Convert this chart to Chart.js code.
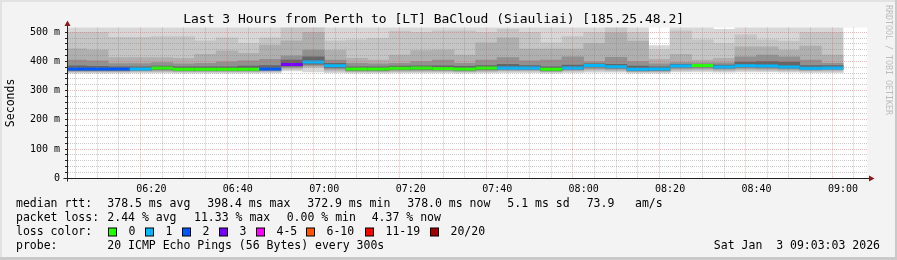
<!DOCTYPE html>
<html>
<head>
<meta charset="utf-8">
<script src="https://cdn.jsdelivr.net/npm/chart.js@4.4.1/dist/chart.umd.min.js"></script>
<style>
  html, body { margin: 0; padding: 0; background: #f3f3f3; }
  canvas { display: block; }
</style>
</head>
<body>
<canvas id="smoke" width="897" height="260"></canvas>
<script>
// each row is one 5 minute consolidation step, labelled by the time it ends
const slotEnds = ['06:05', '06:10', '06:15', '06:20', '06:25', '06:30', '06:35', '06:40', '06:45',
  '06:50', '06:55', '07:00', '07:05', '07:10', '07:15', '07:20', '07:25', '07:30', '07:35', '07:40',
  '07:45', '07:50', '07:55', '08:00', '08:05', '08:10', '08:15', '08:20', '08:25', '08:30', '08:35',
  '08:40', '08:45', '08:50', '08:55', '09:00'];

// median rtt (ms) and lost pings out of 20
const medianMs = [374, 374, 374, 374, 377.6, 373, 373, 373, 373, 374, 389.6, 398.4, 385, 374, 374, 377,
  377.6, 376, 374, 377.6, 377.6, 377.6, 372.9, 377.6, 386, 382, 373.5, 374, 384.5, 386, 381, 385.5,
  384.5, 381, 376.6, 378];
const lostPings = [2, 2, 2, 1, 0, 0, 0, 0, 0, 2, 3, 1, 1, 0, 0, 0, 0, 0, 0, 0, 1, 1, 0, 1, 1, 1, 1, 1, 1,
  0, 1, 1, 1, 1, 1, 1];

// smoke: outer -> inner bands of the sorted pings (ms)
const pingMin = [360, 360, 360, 361, 361, 360, 360, 360, 360, 361, 368, 364, 362, 360, 360, 361, 361, 361,
  360, 361, 362, 362, 360, 362, 363, 363, 360, 360, 364, 364, 363, 364, 364, 363, 362, 362];
const pingMax = [530, 530, 530, 530, 530, 530, 530, 530, 530, 530, 530, 530, 530, 530, 530, 530, 530, 530,
  530, 530, 530, 530, 530, 530, 530, 530, 530, 454, 530, 530, 510, 530, 530, 530, 530, 530];
const band2Lo = [363, 363, 363, 364, 364, 363, 363, 363, 363, 364, 372, 378, 366, 363, 363, 364, 364, 364,
  363, 364, 366, 366, 363, 366, 368, 367, 363, 363, 368, 369, 367, 369, 368, 367, 366, 366];
const band2Hi = [500, 500, 483, 483, 485, 485, 471, 481, 462, 481, 516, 530, 471, 474, 479, 504, 500, 505,
  505, 500, 510, 500, 464, 485, 500, 516, 500, 440, 505, 474, 462, 491, 474, 470, 500, 500];
const band3Lo = [366, 366, 366, 367, 367, 366, 366, 366, 366, 367, 376, 382, 370, 366, 366, 367, 367, 367,
  366, 367, 369, 369, 366, 369, 372, 370, 366, 366, 372, 373, 370, 373, 372, 370, 369, 369];
const band3Hi = [443, 439, 413, 413, 413, 411, 424, 436, 428, 456, 471, 500, 438, 411, 405, 422, 437, 439,
  422, 464, 481, 442, 442, 442, 462, 499, 470, 407, 424, 405, 411, 450, 450, 439, 453, 422];
const band4Lo = [368, 368, 368, 369, 370, 368, 368, 368, 368, 369, 380, 386, 374, 368, 368, 370, 370, 369,
  368, 370, 371, 371, 367, 371, 376, 374, 367, 368, 376, 377, 374, 377, 376, 374, 371, 372];
const band4Hi = [405, 402, 393, 393, 396, 392, 394, 399, 402, 407, 419, 439, 405, 394, 392, 394, 400, 405,
  394, 405, 413, 402, 405, 416, 399, 414, 400, 392, 396, 395, 395, 416, 422, 416, 405, 394];
const band5Lo = [370, 370, 370, 371, 373, 370, 370, 370, 370, 371, 384, 391, 379, 370, 370, 373, 373, 372,
  370, 373, 374, 374, 369, 374, 381, 378, 369, 370, 380, 381, 378, 381, 380, 378, 374, 375];
const band5Hi = [385, 383, 382, 382, 384, 382, 382, 382, 384, 386, 405, 416, 394, 382, 382, 384, 385, 385,
  383, 386, 390, 386, 382, 388, 392, 390, 384, 382, 390, 390, 388, 398, 400, 398, 386, 386];

// axis ticks
const yTicks = [0, 20, 40, 60, 80, 100, 120, 140, 160, 180, 200, 220, 240, 260, 280, 300, 320, 340, 360,
  380, 400, 420, 440, 460, 480, 500];
const xLabels = ['06:20', '06:40', '07:00', '07:20', '07:40', '08:00', '08:20', '08:40', '09:00'];
const viewStart = '06:03:03';
const viewEnd = '09:03:03';

// legend / stats texts
const rttStats = ['378.5 ms avg', '398.4 ms max', '372.9 ms min', '378.0 ms now', '5.1 ms sd', '73.9', 'am/s'];
const lossStats = ['2.44 % avg', '11.33 % max', '0.00 % min', '4.37 % now'];
const lossLegend = [
  { label: '0', color: '#26ff00' },
  { label: '1', color: '#00b8ff' },
  { label: '2', color: '#0059ff' },
  { label: '3', color: '#7800ff' },
  { label: '4-5', color: '#ff00ff' },
  { label: '6-10', color: '#ff5500' },
  { label: '11-19', color: '#ff0000' },
  { label: '20/20', color: '#a10000' }
];
const probeText = '20 ICMP Echo Pings (56 Bytes) every 300s';
const stampText = 'Sat Jan  3 09:03:03 2026';

const MONO = "'DejaVu Sans Mono', monospace";

const toMin = function (s) {
  const p = s.split(':').map(Number);
  return (p[0] - 6) * 60 + p[1] + (p[2] || 0) / 60;
};
const isHour = v => xLabels.some(l => Math.abs(toMin(l) - v) < 0.01);
const lossColor = function (n) {
  if (n <= 3) return lossLegend[n].color;
  if (n <= 5) return lossLegend[4].color;
  if (n <= 10) return lossLegend[5].color;
  if (n <= 19) return lossLegend[6].color;
  return lossLegend[7].color;
};

const band = function (lo, hi, color, order) {
  return {
    type: 'bar',
    data: slotEnds.map((t, i) => ({ x: toMin(t) - 2.5, y: [lo[i], hi[i]] })),
    backgroundColor: color,
    borderWidth: 0,
    grouped: false,
    barPercentage: 1,
    categoryPercentage: 1,
    order: order
  };
};

const medianPoints = [];
slotEnds.forEach((t, i) => {
  const end = toMin(t);
  medianPoints.push({ x: end - 5, y: medianMs[i] }, { x: end, y: medianMs[i] }, { x: end, y: null });
});

const majorGrid = 'rgba(235, 70, 70, 0.4)';
const minorGrid = 'rgba(128, 128, 128, 0.42)';

const rrdFrame = {
  id: 'rrdFrame',
  beforeDraw: chart => {
    const ctx = chart.ctx;
    const a = chart.chartArea;
    ctx.save();
    ctx.fillStyle = '#f3f3f3';
    ctx.fillRect(0, 0, chart.width, chart.height);
    ctx.fillStyle = '#e2e2e2';
    ctx.fillRect(0, 0, chart.width, 2);
    ctx.fillRect(0, 0, 2, chart.height);
    ctx.fillStyle = '#c9c9c9';
    ctx.fillRect(0, chart.height - 3, chart.width, 3);
    ctx.fillRect(chart.width - 2, 0, 2, chart.height);
    ctx.fillStyle = '#ffffff';
    ctx.fillRect(a.left, a.top, a.right - a.left, a.bottom - a.top);
    ctx.restore();
  },
  afterDraw: chart => {
    const ctx = chart.ctx;
    const a = chart.chartArea;
    const x0 = Math.round(a.left) + 0.5;
    const y0 = Math.round(a.bottom) + 0.5;
    ctx.save();
    // axis extensions past the plot and arrow heads
    ctx.strokeStyle = '#222';
    ctx.lineWidth = 1;
    ctx.beginPath();
    ctx.moveTo(x0, y0 + 3);
    ctx.lineTo(x0, 24);
    ctx.moveTo(x0 - 4, y0);
    ctx.lineTo(870, y0);
    ctx.stroke();
    ctx.fillStyle = '#8b1a1a';
    ctx.beginPath();
    ctx.moveTo(x0, 20.5);
    ctx.lineTo(x0 - 3, 26);
    ctx.lineTo(x0 + 3, 26);
    ctx.closePath();
    ctx.fill();
    ctx.beginPath();
    ctx.moveTo(874.5, y0);
    ctx.lineTo(869, y0 - 3);
    ctx.lineTo(869, y0 + 3);
    ctx.closePath();
    ctx.fill();

    // watermark
    ctx.fillStyle = '#bdbdbd';
    ctx.font = '8.3px ' + MONO;
    ctx.textBaseline = 'middle';
    ctx.textAlign = 'left';
    ctx.translate(888, 5);
    ctx.rotate(Math.PI / 2);
    ctx.fillText('RRDTOOL / TOBI OETIKER', 0, 0);
    ctx.setTransform(1, 0, 0, 1, 0, 0);

    // stats rows
    ctx.fillStyle = '#000';
    ctx.font = '11.5px ' + MONO;
    ctx.textBaseline = 'middle';
    const rows = [204.5, 218.5, 232.5, 246.5];
    ctx.fillText('median rtt:', 16, rows[0]);
    [107.3, 207.3, 307.3, 407.3, 507.3, 586.7, 635].forEach((x, i) => ctx.fillText(rttStats[i], x, rows[0]));
    ctx.fillText('packet loss:', 16, rows[1]);
    [107.3, 194, 286.7, 371.7].forEach((x, i) => ctx.fillText(lossStats[i], x, rows[1]));
    ctx.fillText('loss color:', 16, rows[2]);
    const boxX = [108.5, 145.5, 182.5, 219.5, 256.5, 306.5, 365.5, 430.5];
    lossLegend.forEach((item, i) => {
      ctx.fillStyle = item.color;
      ctx.fillRect(boxX[i], rows[2] - 4.5, 8, 8);
      ctx.strokeStyle = '#000';
      ctx.strokeRect(boxX[i], rows[2] - 4.5, 8, 8);
      ctx.fillStyle = '#000';
      ctx.fillText(item.label, boxX[i] + 20, rows[2]);
    });
    ctx.fillText('probe:', 16, rows[3]);
    ctx.fillText(probeText, 107.3, rows[3]);
    ctx.textAlign = 'right';
    ctx.fillText(stampText, 880, rows[3]);
    ctx.restore();
  }
};

new Chart(document.getElementById('smoke'), {
  type: 'bar',
  plugins: [rrdFrame],
  data: {
    datasets: [
      {
        type: 'line',
        data: medianPoints,
        borderWidth: 3,
        borderColor: lossColor(0),
        borderCapStyle: 'butt',
        pointRadius: 0,
        spanGaps: false,
        segment: {
          borderColor: c => lossColor(lostPings[Math.floor(c.p0DataIndex / 3)])
        },
        order: 0
      },
      band(band5Lo, band5Hi, '#666666', 1),
      band(band4Lo, band4Hi, '#919191', 2),
      band(band3Lo, band3Hi, '#afafaf', 3),
      band(band2Lo, band2Hi, '#c5c5c5', 4),
      band(pingMin, pingMax, '#d7d7d7', 5)
    ]
  },
  options: {
    responsive: false,
    animation: false,
    events: [],
    layout: { padding: { left: 0, right: 29.7, top: 0, bottom: 0 } },
    plugins: {
      legend: { display: false },
      tooltip: { enabled: false },
      title: {
        display: true,
        text: 'Last 3 Hours from Perth to [LT] BaCloud (Siauliai) [185.25.48.2]',
        color: '#000',
        font: { family: MONO, size: 13, weight: 'normal' },
        padding: { top: 12, bottom: 0 }
      }
    },
    scales: {
      x: {
        type: 'linear',
        min: toMin(viewStart),
        max: toMin(viewEnd),
        afterBuildTicks: s => { s.ticks = slotEnds.map(t => ({ value: toMin(t) })); },
        afterFit: s => { s.height = 81.8; },
        ticks: {
          autoSkip: false,
          maxRotation: 0,
          padding: 5,
          color: '#000',
          font: { family: MONO, size: 10 },
          callback: function (value) {
            const hit = xLabels.find(l => Math.abs(toMin(l) - value) < 0.01);
            return hit || '';
          }
        },
        grid: {
          z: 1,
          lineWidth: 1,
          drawTicks: false,
          color: c => (c.tick && isHour(c.tick.value)) ? majorGrid : minorGrid
        },
        border: { color: '#222', width: 1, dash: [1, 1], z: 2 }
      },
      y: {
        min: 0,
        max: 516,
        afterBuildTicks: s => { s.ticks = yTicks.map(v => ({ value: v })); },
        afterFit: s => { s.width = 67; },
        ticks: {
          autoSkip: false,
          padding: 5,
          color: '#000',
          font: { family: MONO, size: 10 },
          callback: function (value) {
            if (value === 0) return '0';
            return value % 100 === 0 ? value + ' m' : '';
          }
        },
        title: {
          display: true,
          text: 'Seconds',
          color: '#000',
          font: { family: MONO, size: 11.5 },
          padding: { top: 4, bottom: 0 }
        },
        grid: {
          z: 1,
          lineWidth: 1,
          tickLength: 2,
          tickColor: '#222',
          color: c => {
            if (!c.tick || c.tick.value === 0) return 'rgba(0,0,0,0)';
            return c.tick.value % 100 === 0 ? majorGrid : minorGrid;
          }
        },
        border: { color: '#222', width: 1, dash: [1, 1], z: 2 }
      }
    }
  }
});
</script>
</body>
</html>
